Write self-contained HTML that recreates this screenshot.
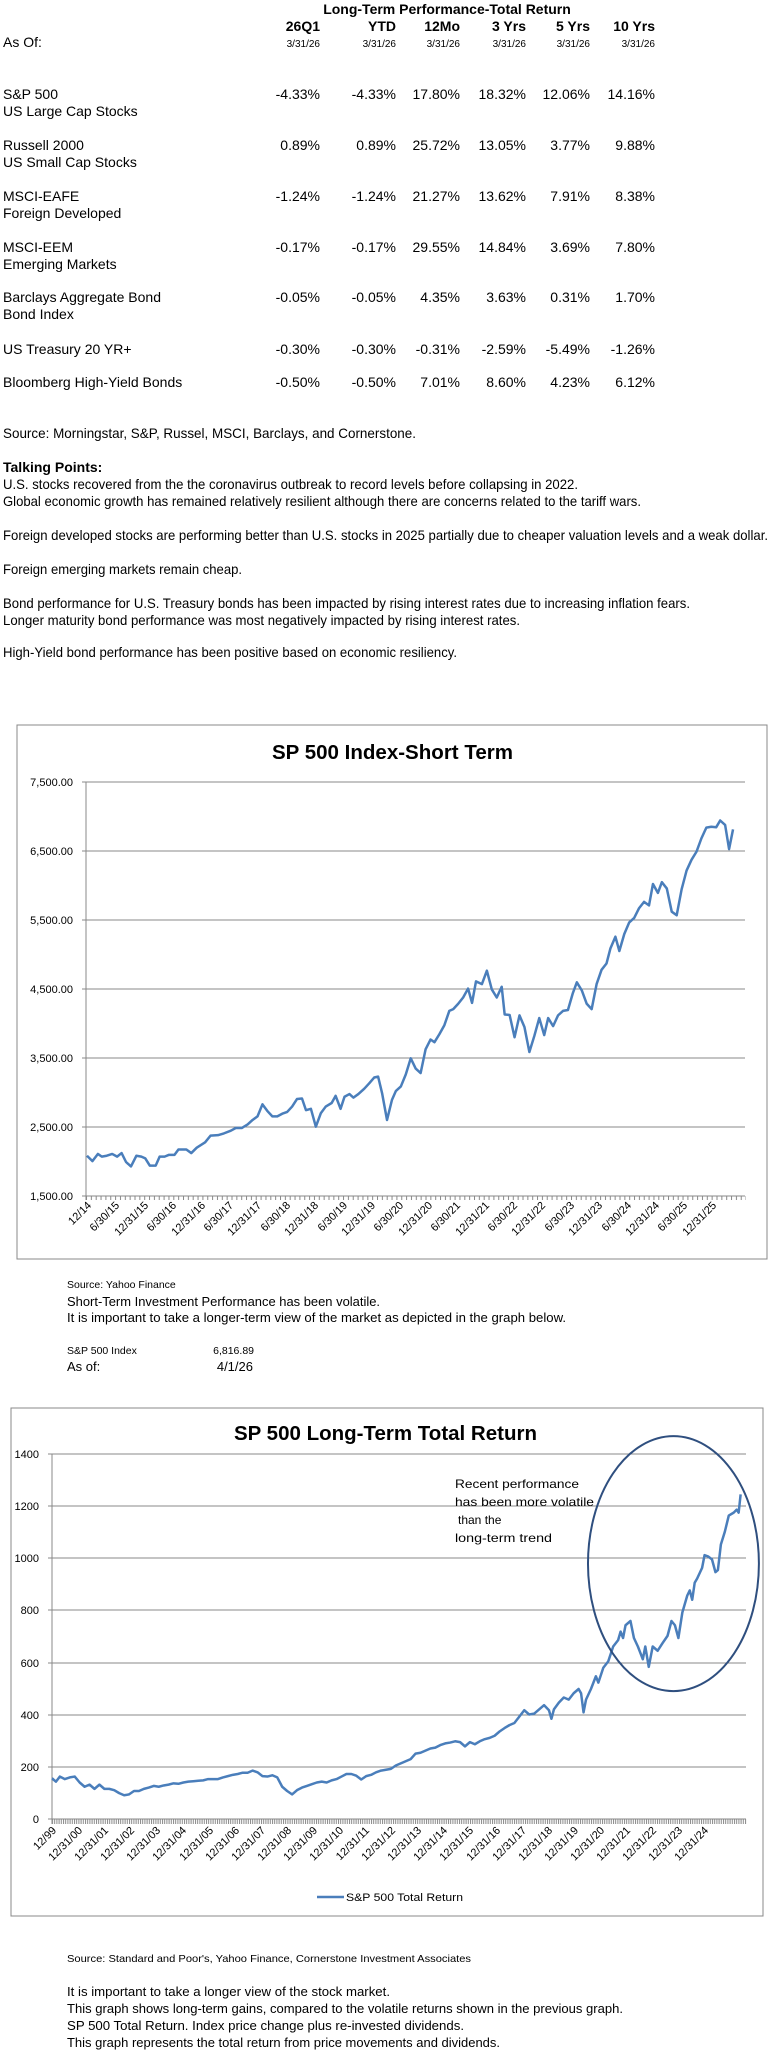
<!DOCTYPE html>
<html><head><meta charset="utf-8"><style>
html,body{margin:0;padding:0;background:#fff;width:775px;height:2067px;overflow:hidden}
svg{display:block}
text{font-family:"Liberation Sans",Arial,sans-serif;fill:#000}
</style></head><body>
<svg width="775" height="2067" viewBox="0 0 775 2067" xmlns="http://www.w3.org/2000/svg">
<defs>
<pattern id="t1" x="86" y="0" width="4.85" height="10" patternUnits="userSpaceOnUse"><rect x="0" y="0" width="1" height="10" fill="#888"/></pattern>
<pattern id="t2" x="52" y="0" width="2.2" height="10" patternUnits="userSpaceOnUse"><rect x="0" y="0" width="1" height="10" fill="#888"/></pattern>
</defs>
<!-- Table -->
<g font-size="14">
<text x="447" y="14" font-weight="bold" text-anchor="middle">Long-Term Performance-Total Return</text>
<g font-weight="bold" text-anchor="end">
<text x="320" y="31">26Q1</text><text x="396" y="31">YTD</text><text x="460" y="31">12Mo</text><text x="526" y="31">3 Yrs</text><text x="590" y="31">5 Yrs</text><text x="655" y="31">10 Yrs</text></g>
<text x="3" y="47">As Of:</text>
<g font-size="10" text-anchor="end"><text x="320" y="47">3/31/26</text><text x="396" y="47">3/31/26</text><text x="460" y="47">3/31/26</text><text x="526" y="47">3/31/26</text><text x="590" y="47">3/31/26</text><text x="655" y="47">3/31/26</text></g>
<text x="3" y="99">S&amp;P 500</text><text x="3" y="116">US Large Cap Stocks</text>
<text x="3" y="150">Russell 2000</text><text x="3" y="167">US Small Cap Stocks</text>
<text x="3" y="201">MSCI-EAFE</text><text x="3" y="218">Foreign Developed</text>
<text x="3" y="252">MSCI-EEM</text><text x="3" y="269">Emerging Markets</text>
<text x="3" y="302">Barclays Aggregate Bond</text><text x="3" y="319">Bond Index</text>
<text x="3" y="354">US Treasury 20 YR+</text>
<text x="3" y="387">Bloomberg High-Yield Bonds</text>
<g text-anchor="end">
<text x="320" y="99">-4.33%</text><text x="396" y="99">-4.33%</text><text x="460" y="99">17.80%</text><text x="526" y="99">18.32%</text><text x="590" y="99">12.06%</text><text x="655" y="99">14.16%</text>
<text x="320" y="150">0.89%</text><text x="396" y="150">0.89%</text><text x="460" y="150">25.72%</text><text x="526" y="150">13.05%</text><text x="590" y="150">3.77%</text><text x="655" y="150">9.88%</text>
<text x="320" y="201">-1.24%</text><text x="396" y="201">-1.24%</text><text x="460" y="201">21.27%</text><text x="526" y="201">13.62%</text><text x="590" y="201">7.91%</text><text x="655" y="201">8.38%</text>
<text x="320" y="252">-0.17%</text><text x="396" y="252">-0.17%</text><text x="460" y="252">29.55%</text><text x="526" y="252">14.84%</text><text x="590" y="252">3.69%</text><text x="655" y="252">7.80%</text>
<text x="320" y="302">-0.05%</text><text x="396" y="302">-0.05%</text><text x="460" y="302">4.35%</text><text x="526" y="302">3.63%</text><text x="590" y="302">0.31%</text><text x="655" y="302">1.70%</text>
<text x="320" y="354">-0.30%</text><text x="396" y="354">-0.30%</text><text x="460" y="354">-0.31%</text><text x="526" y="354">-2.59%</text><text x="590" y="354">-5.49%</text><text x="655" y="354">-1.26%</text>
<text x="320" y="387">-0.50%</text><text x="396" y="387">-0.50%</text><text x="460" y="387">7.01%</text><text x="526" y="387">8.60%</text><text x="590" y="387">4.23%</text><text x="655" y="387">6.12%</text>
</g>
<!-- Talking points -->
<text x="3" y="438" textLength="413" lengthAdjust="spacingAndGlyphs">Source:  Morningstar, S&amp;P, Russel, MSCI, Barclays, and Cornerstone.</text>
<text x="3" y="472" font-weight="bold">Talking Points:</text>
<text x="3" y="489" textLength="575" lengthAdjust="spacingAndGlyphs">U.S. stocks recovered from the  the coronavirus outbreak to record levels before collapsing in 2022.</text>
<text x="3" y="506" textLength="638" lengthAdjust="spacingAndGlyphs">Global economic growth has remained relatively resilient although there are concerns related to the tariff wars.</text>
<text x="3" y="540" textLength="765" lengthAdjust="spacingAndGlyphs">Foreign developed stocks are performing better than U.S. stocks in 2025 partially due to cheaper valuation levels and a weak dollar.</text>
<text x="3" y="574" textLength="239" lengthAdjust="spacingAndGlyphs">Foreign emerging markets remain cheap.</text>
<text x="3" y="608" textLength="687" lengthAdjust="spacingAndGlyphs">Bond performance for U.S. Treasury bonds has been impacted by rising interest rates due to increasing inflation fears.</text>
<text x="3" y="625" textLength="517" lengthAdjust="spacingAndGlyphs">Longer maturity bond performance was most negatively impacted by rising interest rates.</text>
<text x="3" y="657" textLength="454" lengthAdjust="spacingAndGlyphs">High-Yield bond performance has been positive based on economic resiliency.</text>
</g>

<!-- Chart 1 -->
<rect x="17" y="725" width="750" height="534" fill="none" stroke="#888" stroke-width="1"/>
<text x="272" y="759" font-size="20" font-weight="bold" textLength="241" lengthAdjust="spacingAndGlyphs">SP 500 Index-Short Term</text>
<g stroke="#888" stroke-width="1">
<line x1="82" y1="782" x2="745" y2="782"/><line x1="82" y1="851" x2="745" y2="851"/><line x1="82" y1="920" x2="745" y2="920"/><line x1="82" y1="989" x2="745" y2="989"/><line x1="82" y1="1058" x2="745" y2="1058"/><line x1="82" y1="1127" x2="745" y2="1127"/><line x1="82" y1="1196" x2="745" y2="1196"/>
<line x1="86" y1="782" x2="86" y2="1200"/></g>
<rect x="86" y="1196" width="660" height="4" fill="url(#t1)"/>
<g font-size="11" text-anchor="end">
<text x="73" y="786">7,500.00</text><text x="73" y="855">6,500.00</text><text x="73" y="924">5,500.00</text><text x="73" y="993">4,500.00</text><text x="73" y="1062">3,500.00</text><text x="73" y="1131">2,500.00</text><text x="73" y="1200">1,500.00</text>
</g>
<g font-size="11" text-anchor="end">
<text transform="translate(92,1206) rotate(-45)">12/14</text>
<text transform="translate(120,1206) rotate(-45)">6/30/15</text>
<text transform="translate(149,1206) rotate(-45)">12/31/15</text>
<text transform="translate(177,1206) rotate(-45)">6/30/16</text>
<text transform="translate(206,1206) rotate(-45)">12/31/16</text>
<text transform="translate(234,1206) rotate(-45)">6/30/17</text>
<text transform="translate(262,1206) rotate(-45)">12/31/17</text>
<text transform="translate(291,1206) rotate(-45)">6/30/18</text>
<text transform="translate(319,1206) rotate(-45)">12/31/18</text>
<text transform="translate(348,1206) rotate(-45)">6/30/19</text>
<text transform="translate(376,1206) rotate(-45)">12/31/19</text>
<text transform="translate(404,1206) rotate(-45)">6/30/20</text>
<text transform="translate(433,1206) rotate(-45)">12/31/20</text>
<text transform="translate(461,1206) rotate(-45)">6/30/21</text>
<text transform="translate(490,1206) rotate(-45)">12/31/21</text>
<text transform="translate(518,1206) rotate(-45)">6/30/22</text>
<text transform="translate(546,1206) rotate(-45)">12/31/22</text>
<text transform="translate(575,1206) rotate(-45)">6/30/23</text>
<text transform="translate(603,1206) rotate(-45)">12/31/23</text>
<text transform="translate(632,1206) rotate(-45)">6/30/24</text>
<text transform="translate(660,1206) rotate(-45)">12/31/24</text>
<text transform="translate(688,1206) rotate(-45)">6/30/25</text>
<text transform="translate(717,1206) rotate(-45)">12/31/25</text>
</g>
<g transform="matrix(0.4943,0,0,0.447,0.48,699.8)">
<polyline fill="none" stroke="#4a7ebb" stroke-width="2.5" vector-effect="non-scaling-stroke" stroke-linejoin="round" points="175,1020 186,1032 197,1016 205,1022 215,1020 226,1016 236,1022 245,1014 254,1034 264,1044 275,1020 285,1022 293,1026 302,1042 314,1042 322,1022 332,1022 341,1018 352,1018 360,1006 376,1006 386,1014 397,1002 414,990 425,975 440,974 452,970 466,964 476,958 488,958 500,950 510,940 520,932 530,905 540,920 550,932 560,932 570,926 580,922 590,910 600,893 610,892 618,918 628,915 638,955 648,925 658,910 670,902 678,886 688,915 696,888 706,882 714,890 724,882 736,870 746,858 756,845 764,843 772,880 782,940 792,895 800,875 810,865 820,838 830,802 840,825 850,835 860,782 870,760 878,766 888,748 898,728 908,696 916,692 926,680 936,666 946,646 954,678 962,630 974,636 984,606 994,648 1004,666 1014,642 1020,704 1030,705 1040,755 1050,706 1060,732 1070,788 1080,752 1090,712 1100,750 1108,712 1118,730 1128,706 1138,696 1148,694 1158,656 1166,632 1176,650 1186,680 1196,692 1206,636 1216,604 1226,590 1234,556 1244,530 1252,562 1262,524 1272,498 1282,488 1292,466 1302,452 1312,460 1320,412 1330,432 1338,408 1348,422 1358,474 1368,482 1378,424 1388,382 1398,358 1408,340 1418,310 1428,286 1438,284 1448,285 1456,270 1466,280 1474,334 1482,290"/>
</g>
<text x="67" y="1288" font-size="10.5">Source:  Yahoo Finance</text>
<text x="67" y="1306" font-size="13" textLength="313" lengthAdjust="spacingAndGlyphs">Short-Term Investment Performance has been volatile.</text>
<text x="67" y="1322" font-size="13" textLength="499" lengthAdjust="spacingAndGlyphs">It is important to take a longer-term view of the market as depicted in the graph below.</text>
<text x="67" y="1354" font-size="10.5">S&amp;P 500 Index</text>
<text x="254" y="1354" font-size="10.5" text-anchor="end">6,816.89</text>
<text x="67" y="1371" font-size="13">As of:</text>
<text x="253" y="1371" font-size="13" text-anchor="end">4/1/26</text>

<!-- Chart 2 -->
<rect x="11" y="1408" width="752" height="508" fill="none" stroke="#888" stroke-width="1"/>
<text x="234" y="1440" font-size="20" font-weight="bold" textLength="303" lengthAdjust="spacingAndGlyphs">SP 500 Long-Term Total Return</text>
<g stroke="#888" stroke-width="1">
<line x1="48" y1="1454" x2="746" y2="1454"/><line x1="48" y1="1506" x2="746" y2="1506"/><line x1="48" y1="1558" x2="746" y2="1558"/><line x1="48" y1="1610" x2="746" y2="1610"/><line x1="48" y1="1663" x2="746" y2="1663"/><line x1="48" y1="1715" x2="746" y2="1715"/><line x1="48" y1="1767" x2="746" y2="1767"/><line x1="48" y1="1819" x2="746" y2="1819"/>
<line x1="52" y1="1454" x2="52" y2="1824"/></g>
<rect x="52" y="1819" width="695" height="5" fill="url(#t2)"/>
<g font-size="11" text-anchor="end">
<text x="39" y="1458">1400</text><text x="39" y="1510">1200</text><text x="39" y="1562">1000</text><text x="39" y="1614">800</text><text x="39" y="1667">600</text><text x="39" y="1719">400</text><text x="39" y="1771">200</text><text x="39" y="1823">0</text>
</g>
<g font-size="11" text-anchor="end">
<text transform="translate(57,1831) rotate(-45)">12/99</text>
<text transform="translate(83,1831) rotate(-45)">12/31/00</text>
<text transform="translate(109,1831) rotate(-45)">12/31/01</text>
<text transform="translate(135,1831) rotate(-45)">12/31/02</text>
<text transform="translate(161,1831) rotate(-45)">12/31/03</text>
<text transform="translate(187,1831) rotate(-45)">12/31/04</text>
<text transform="translate(214,1831) rotate(-45)">12/31/05</text>
<text transform="translate(240,1831) rotate(-45)">12/31/06</text>
<text transform="translate(266,1831) rotate(-45)">12/31/07</text>
<text transform="translate(292,1831) rotate(-45)">12/31/08</text>
<text transform="translate(318,1831) rotate(-45)">12/31/09</text>
<text transform="translate(344,1831) rotate(-45)">12/31/10</text>
<text transform="translate(370,1831) rotate(-45)">12/31/11</text>
<text transform="translate(396,1831) rotate(-45)">12/31/12</text>
<text transform="translate(422,1831) rotate(-45)">12/31/13</text>
<text transform="translate(448,1831) rotate(-45)">12/31/14</text>
<text transform="translate(474,1831) rotate(-45)">12/31/15</text>
<text transform="translate(501,1831) rotate(-45)">12/31/16</text>
<text transform="translate(527,1831) rotate(-45)">12/31/17</text>
<text transform="translate(553,1831) rotate(-45)">12/31/18</text>
<text transform="translate(579,1831) rotate(-45)">12/31/19</text>
<text transform="translate(605,1831) rotate(-45)">12/31/20</text>
<text transform="translate(631,1831) rotate(-45)">12/31/21</text>
<text transform="translate(657,1831) rotate(-45)">12/31/22</text>
<text transform="translate(683,1831) rotate(-45)">12/31/23</text>
<text transform="translate(709,1831) rotate(-45)">12/31/24</text>
</g>
<g transform="matrix(0.494,0,0,0.425,0.62,1400)">
<polyline fill="none" stroke="#4a7ebb" stroke-width="2.5" vector-effect="non-scaling-stroke" stroke-linejoin="round" points="104,890 112,898 120,886 130,892 140,888 150,886 160,900 170,910 180,905 190,915 200,905 210,915 220,915 230,918 240,925 250,930 260,928 270,920 280,920 290,915 300,912 310,908 320,910 330,907 340,905 350,902 360,903 370,900 380,898 390,897 400,896 410,895 420,892 430,892 440,892 450,888 460,885 470,882 480,880 490,877 500,877 510,872 520,876 530,885 540,886 550,883 560,888 570,910 580,920 590,928 600,918 610,912 620,908 630,904 640,900 650,898 660,900 670,895 680,892 690,886 700,880 710,880 720,884 730,893 740,885 750,882 760,876 770,872 780,870 790,868 800,860 810,855 820,850 830,845 840,832 850,830 860,825 870,820 880,818 890,812 900,808 910,806 920,803 930,805 940,815 950,805 960,810 970,803 980,798 990,795 1000,790 1010,780 1020,772 1030,765 1040,760 1050,745 1060,730 1070,740 1080,738 1090,728 1100,718 1110,730 1115,750 1120,728 1130,712 1140,700 1150,705 1160,690 1170,680 1175,690 1180,735 1185,705 1195,680 1205,650 1210,665 1220,630 1230,615 1240,580 1250,565 1255,545 1260,560 1265,530 1275,520 1282,560 1290,580 1300,610 1305,580 1312,628 1320,580 1330,590 1340,572 1350,555 1358,520 1365,530 1372,560 1380,500 1390,460 1395,448 1400,470 1405,430 1410,420 1420,395 1425,365 1432,368 1440,375 1447,405 1452,400 1458,340 1466,310 1474,272 1484,265 1490,258 1494,265 1498,222"/>
<ellipse cx="1362" cy="385" rx="173" ry="300" fill="none" stroke="#2f4f7f" stroke-width="2" vector-effect="non-scaling-stroke"/>
</g>
<g font-size="12">
<text x="455" y="1488" textLength="124" lengthAdjust="spacingAndGlyphs">Recent performance</text>
<text x="455" y="1506" textLength="139" lengthAdjust="spacingAndGlyphs">has been more volatile</text>
<text x="458" y="1524">than the</text>
<text x="455" y="1542" textLength="97" lengthAdjust="spacingAndGlyphs">long-term trend</text>
</g>
<line x1="317" y1="1897" x2="344" y2="1897" stroke="#4a7ebb" stroke-width="2.5"/>
<text x="346" y="1901" font-size="11" textLength="117" lengthAdjust="spacingAndGlyphs">S&amp;P 500 Total Return</text>
<text x="67" y="1962" font-size="10.5" textLength="404" lengthAdjust="spacingAndGlyphs">Source:  Standard and Poor's, Yahoo Finance, Cornerstone Investment Associates</text>
<text x="67" y="1996" font-size="13" textLength="323" lengthAdjust="spacingAndGlyphs">It is important to take a longer view of the stock market.</text>
<text x="67" y="2013" font-size="13" textLength="556" lengthAdjust="spacingAndGlyphs">This graph shows long-term gains, compared to the volatile returns shown in the previous graph.</text>
<text x="67" y="2030" font-size="13" textLength="397" lengthAdjust="spacingAndGlyphs">SP 500 Total Return.  Index price change plus re-invested dividends.</text>
<text x="67" y="2047" font-size="13" textLength="433" lengthAdjust="spacingAndGlyphs">This graph represents the total return from price movements and dividends.</text>
</svg>
</body></html>
